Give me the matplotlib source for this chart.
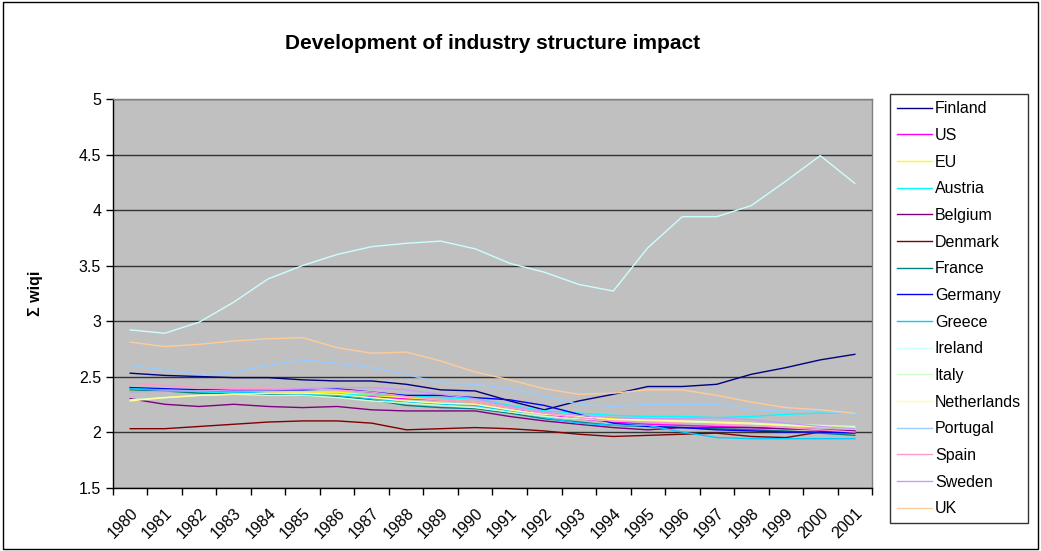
import matplotlib.pyplot as plt
import numpy as np
from matplotlib.patches import Rectangle
from matplotlib.ticker import FixedLocator

# Datos
years = [str(y) for y in range(1980, 2002)]

countries = ['Finland', 'US', 'EU', 'Austria', 'Belgium', 'Denmark', 'France',
             'Germany', 'Greece', 'Ireland', 'Italy', 'Netherlands', 'Portugal',
             'Spain', 'Sweden', 'UK']

finland = [2.53, 2.51, 2.50, 2.49, 2.49, 2.47, 2.46, 2.46, 2.43, 2.38, 2.37,
           2.28, 2.20, 2.28, 2.34, 2.41, 2.41, 2.43, 2.52, 2.58, 2.65, 2.70]
us = [2.40, 2.38, 2.37, 2.37, 2.36, 2.35, 2.34, 2.32, 2.30, 2.29, 2.27,
      2.22, 2.16, 2.12, 2.09, 2.07, 2.06, 2.05, 2.04, 2.03, 2.02, 2.00]
eu = [2.38, 2.37, 2.36, 2.36, 2.36, 2.36, 2.36, 2.33, 2.31, 2.29, 2.27,
      2.22, 2.18, 2.15, 2.12, 2.10, 2.09, 2.08, 2.07, 2.06, 2.05, 2.04]
austria = [2.40, 2.38, 2.36, 2.35, 2.34, 2.33, 2.34, 2.33, 2.33, 2.31, 2.30,
           2.24, 2.19, 2.17, 2.15, 2.14, 2.14, 2.13, 2.14, 2.16, 2.17, 2.17]
belgium = [2.30, 2.25, 2.23, 2.25, 2.23, 2.22, 2.23, 2.20, 2.19, 2.19, 2.19,
           2.14, 2.10, 2.07, 2.04, 2.02, 2.04, 2.04, 2.04, 2.03, 2.02, 2.01]
denmark = [2.03, 2.03, 2.05, 2.07, 2.09, 2.10, 2.10, 2.08, 2.02, 2.03, 2.04,
           2.03, 2.01, 1.98, 1.96, 1.97, 1.98, 1.99, 1.96, 1.95, 2.00, 2.00]
france = [2.38, 2.37, 2.35, 2.34, 2.34, 2.33, 2.32, 2.29, 2.24, 2.22, 2.21,
          2.17, 2.12, 2.09, 2.06, 2.05, 2.04, 2.03, 2.02, 2.01, 1.99, 1.97]
germany = [2.40, 2.39, 2.38, 2.38, 2.38, 2.38, 2.39, 2.36, 2.33, 2.33, 2.31,
           2.29, 2.24, 2.16, 2.08, 2.05, 2.04, 2.02, 2.01, 2.00, 2.00, 1.99]
greece = [2.39, 2.38, 2.37, 2.36, 2.35, 2.34, 2.33, 2.30, 2.27, 2.25, 2.24,
          2.19, 2.13, 2.08, 2.06, 2.06, 2.00, 1.95, 1.94, 1.94, 1.94, 1.94]
ireland = [2.92, 2.89, 2.99, 3.17, 3.38, 3.50, 3.60, 3.67, 3.70, 3.72, 3.65,
           3.52, 3.44, 3.33, 3.27, 3.66, 3.94, 3.94, 4.04, 4.26, 4.49, 4.24]
italy = [2.29, 2.31, 2.33, 2.34, 2.33, 2.33, 2.31, 2.28, 2.26, 2.24, 2.22,
         2.18, 2.14, 2.12, 2.10, 2.10, 2.09, 2.08, 2.07, 2.07, 2.06, 2.05]
netherlands = [2.28, 2.31, 2.33, 2.34, 2.35, 2.35, 2.34, 2.31, 2.28, 2.26, 2.25,
               2.20, 2.16, 2.14, 2.11, 2.11, 2.10, 2.09, 2.08, 2.06, 2.05, 2.03]
portugal = [2.60, 2.56, 2.52, 2.54, 2.60, 2.65, 2.62, 2.58, 2.52, 2.44, 2.43,
            2.39, 2.32, 2.25, 2.23, 2.25, 2.25, 2.25, 2.20, 2.19, 2.19, 2.16]
spain = [2.44, 2.42, 2.40, 2.39, 2.39, 2.39, 2.38, 2.36, 2.32, 2.29, 2.27,
         2.22, 2.17, 2.13, 2.10, 2.09, 2.08, 2.07, 2.06, 2.04, 2.02, 2.00]
sweden = [2.36, 2.37, 2.37, 2.38, 2.38, 2.39, 2.40, 2.40, 2.38, 2.34, 2.30,
          2.23, 2.18, 2.15, 2.13, 2.12, 2.12, 2.13, 2.11, 2.08, 2.05, 2.03]
uk = [2.81, 2.77, 2.79, 2.82, 2.84, 2.85, 2.76, 2.71, 2.72, 2.64, 2.54,
      2.47, 2.39, 2.34, 2.35, 2.38, 2.38, 2.33, 2.27, 2.22, 2.20, 2.17]

series = [finland, us, eu, austria, belgium, denmark, france, germany, greece,
          ireland, italy, netherlands, portugal, spain, sweden, uk]

colores = ['#000080', '#FF00FF', '#FFFF00', '#00FFFF', '#800080', '#800000',
           '#008080', '#0000FF', '#00CCFF', '#CCFFFF', '#CCFFCC', '#FFFF99',
           '#99CCFF', '#FF99CC', '#CC99FF', '#FFCC99']

plt.rcParams['font.family'] = ['Liberation Sans', 'DejaVu Sans']

fig = plt.figure(figsize=(10.41, 5.51), dpi=100)
fig.patches.append(Rectangle((0.003, 0.004), 0.994, 0.992, transform=fig.transFigure,
                             fill=False, edgecolor='black', linewidth=1.0))

ax = fig.add_axes([0.1085, 0.1152, 0.7292, 0.7051])
ax.set_facecolor('#C0C0C0')

x = np.arange(len(years))
for nombre, valores, c in zip(countries, series, colores):
    ax.plot(x, valores, color=c, linewidth=1.0, label=nombre)

ax.set_xlim(-0.5, len(years) - 0.5)
ax.set_ylim(1.5, 5)
ax.set_yticks(np.arange(1.5, 5.01, 0.5))
ax.set_yticklabels(['1.5', '2', '2.5', '3', '3.5', '4', '4.5', '5'])
ax.yaxis.grid(True, color='#333333', linewidth=1.0)
ax.set_axisbelow(True)

ax.set_xticks(x)
ax.set_xticklabels(years, rotation=45, ha='right', va='top', rotation_mode='anchor')
ax.xaxis.set_minor_locator(FixedLocator(np.arange(-0.5, len(years), 1.0)))
ax.tick_params(axis='x', which='major', length=0, pad=13, labelsize=11.5)
ax.tick_params(axis='x', which='minor', length=5, width=1, color='black')
ax.tick_params(axis='y', length=5, width=1, labelsize=11.5)

for lado in ['left', 'bottom']:
    ax.spines[lado].set_color('black')
    ax.spines[lado].set_linewidth(1.0)
for lado in ['top', 'right']:
    ax.spines[lado].set_color('#808080')
    ax.spines[lado].set_linewidth(1.0)

ax.set_title('Development of industry structure impact', fontsize=15,
             fontweight='bold', pad=36)
ax.set_ylabel('Σ wiqi', fontsize=11.5, fontweight='bold', labelpad=26)

leg = fig.legend(loc='upper left', bbox_to_anchor=(0.855, 0.829), fontsize=11.5,
                 frameon=True, fancybox=False, edgecolor='black',
                 handlelength=2.2, handletextpad=0.15, labelspacing=0.73,
                 borderpad=0.45, borderaxespad=0)
leg.get_frame().set_linewidth(1.0)

fig.savefig('out.png', dpi=100)
